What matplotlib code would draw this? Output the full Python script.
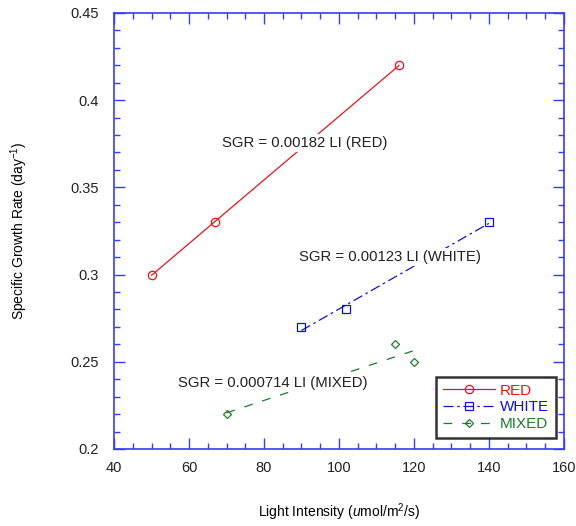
import numpy as np
import matplotlib
matplotlib.use("Agg")
import matplotlib.pyplot as plt
from matplotlib.ticker import MultipleLocator

plt.rcParams['font.family'] = ['Liberation Sans', 'DejaVu Sans']
plt.rcParams['mathtext.fontset'] = 'custom'
plt.rcParams['mathtext.rm'] = 'Liberation Sans'
plt.rcParams['mathtext.it'] = 'Liberation Sans:italic'

red_x = [50, 67, 116]
red_y = [0.30, 0.33, 0.42]
white_x = [90, 102, 140]
white_y = [0.27, 0.28, 0.33]
mixed_x = [70, 115, 120]
mixed_y = [0.22, 0.26, 0.25]

labels = ["SGR = 0.00182 LI (RED)", "SGR = 0.00123 LI (WHITE)", "SGR = 0.000714 LI (MIXED)"]
label_pos = [(90.9, 0.3755), (113.6, 0.310), (82.4, 0.2378)]

c_red = '#e8141c'
c_blue = '#1010dd'
c_green = '#1f7a2e'
c_axis = '#3a3aff'

fig = plt.figure(figsize=(5.76, 5.26), dpi=100)
ax = fig.add_axes([0.198, 0.1464, 0.781, 0.829])

series = [
    (red_x, red_y, c_red, 'o', '-', 'RED', 6),
    (white_x, white_y, c_blue, 's', (0, (8, 3, 2, 3)), 'WHITE', 6),
    (mixed_x, mixed_y, c_green, 'D', (0, (7, 8)), 'MIXED', 4),
]
for xs, ys, col, mk, ls, name, ms in series:
    xs = np.array(xs, float)
    ys = np.array(ys, float)
    m, b = np.polyfit(xs, ys, 1)
    xl = np.array([xs.min(), xs.max()])
    ax.plot(xl, m * xl + b, color=col, lw=0.9, ls=ls, zorder=2)
    ax.plot(xs, ys, ls='none', marker=mk, mfc='none', mec=col, ms=ms, mew=0.9, zorder=3)
    ax.plot([], [], color=col, lw=0.9, ls=ls, marker=mk, mfc='none', mec=col, ms=ms, mew=0.9, label=name)

for t, (x, y) in zip(labels, label_pos):
    ax.text(x, y, t, ha='center', va='center', fontsize=10.7, color='#222222',
            bbox=dict(facecolor='white', edgecolor='none', pad=1.5), zorder=4)

ax.set_xlim(40, 160)
ax.set_ylim(0.2, 0.45)
ax.xaxis.set_major_locator(MultipleLocator(20))
ax.xaxis.set_minor_locator(MultipleLocator(5))
ax.yaxis.set_major_locator(MultipleLocator(0.05))
ax.yaxis.set_minor_locator(MultipleLocator(0.01))
ax.set_yticks([0.2, 0.25, 0.3, 0.35, 0.4, 0.45])
ax.set_yticklabels(['0.2', '0.25', '0.3', '0.35', '0.4', '0.45'])
ax.tick_params(which='both', direction='in', top=True, right=True, color=c_axis, labelsize=10.5, labelcolor='#222222')
ax.tick_params(which='major', length=8, width=1)
ax.tick_params(which='minor', length=4.5, width=1)
ax.tick_params(axis='x', pad=9)
ax.tick_params(axis='y', pad=11)
for s in ax.spines.values():
    s.set_color(c_axis)
    s.set_linewidth(1.2)

ax.set_xlabel('Light Intensity ($\\it{u}$mol/m$^2$/s)', fontsize=10, labelpad=19)
ax.set_ylabel('Specific Growth Rate (day$^{-1}$)', fontsize=10, labelpad=29)

leg = ax.legend(loc='lower right', bbox_to_anchor=(0.982, 0.025), fontsize=11, frameon=True,
                fancybox=False, handlelength=3.4, borderpad=0.45, labelspacing=0.18,
                handletextpad=0.3, borderaxespad=0.0)
leg.get_frame().set_edgecolor('black')
leg.get_frame().set_linewidth(1.8)
for txt, col in zip(leg.get_texts(), [c_red, c_blue, c_green]):
    txt.set_color(col)

fig.savefig('out.png', dpi=100)
